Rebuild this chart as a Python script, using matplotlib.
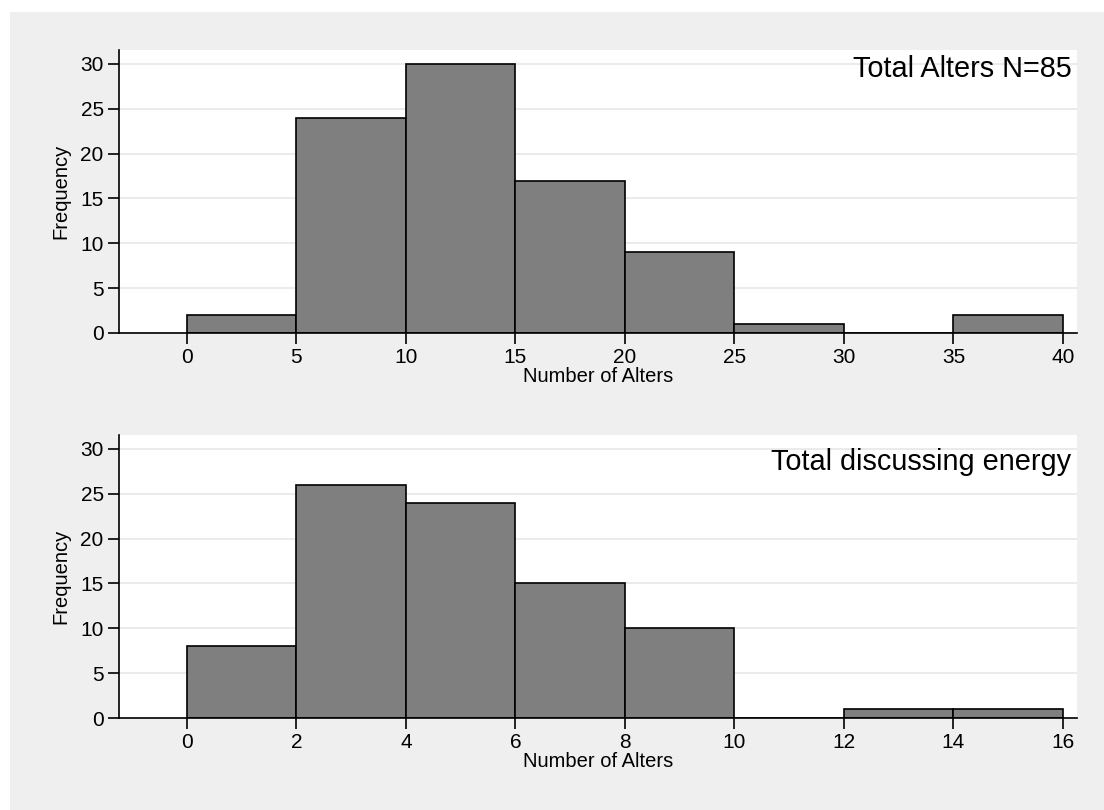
import numpy as np
import matplotlib
matplotlib.use("Agg")
import matplotlib.pyplot as plt
from matplotlib.patches import Rectangle

plt.rcParams['font.family'] = ['Liberation Sans', 'DejaVu Sans']

##################################
# Data (histogram counts)
alters_edges = [0, 5, 10, 15, 20, 25, 30, 35, 40]
alters_counts = [2, 24, 30, 17, 9, 1, 0, 2]
alters_ticks = [0, 5, 10, 15, 20, 25, 30, 35, 40]
alters_title = "Total Alters N=85"

energy_edges = [0, 2, 4, 6, 8, 10, 12, 14, 16]
energy_counts = [8, 26, 24, 15, 10, 0, 1, 1]
energy_ticks = [0, 2, 4, 6, 8, 10, 12, 14, 16]
energy_title = "Total discussing energy"

y_ticks = [0, 5, 10, 15, 20, 25, 30]

##################################
# Figure
W, H = 1104, 810
fig = plt.figure(figsize=(W/100, H/100), dpi=100, facecolor='white')
fig.add_artist(Rectangle((10/W, 0), 1, 1 - 12/H, transform=fig.transFigure,
                         facecolor='#efefef', edgecolor='none', zorder=-10))

def panel(rect, edges, counts, ticks, title, title_y, xlim):
    ax = fig.add_axes(rect)
    ax.set_facecolor('white')
    edges = np.asarray(edges, dtype=float)
    ax.bar(edges[:-1], counts, width=np.diff(edges), align='edge',
           color='#7f7f7f', edgecolor='black', linewidth=1.2, zorder=3)
    ax.set_xlim(*xlim)
    ax.set_ylim(0, 31.55)
    ax.set_xticks(ticks)
    ax.set_yticks(y_ticks)
    ax.yaxis.grid(True, color='#e8e8e8', linewidth=1.2, zorder=0)
    ax.set_axisbelow(True)
    for s in ['top', 'right']:
        ax.spines[s].set_visible(False)
    for s in ['left', 'bottom']:
        ax.spines[s].set_linewidth(1.2)
        ax.spines[s].set_zorder(4)
    ax.tick_params(axis='both', length=8, width=1.2, labelsize=15, pad=3)
    ax.set_xlabel('Number of Alters', fontsize=14.5, labelpad=0)
    ax.set_ylabel('Frequency', fontsize=14.5, labelpad=7)
    ax.text(0.9943, title_y, title, transform=ax.transAxes, ha='right', va='baseline',
            fontsize=20.8, zorder=5)
    return ax

panel([119/W, 1 - 333/H, (1077-119)/W, (333-50)/H],
      alters_edges, alters_counts, alters_ticks, alters_title, 0.9046, (-3.1, 40.64))
panel([119/W, 1 - 718/H, (1077-119)/W, (718-435)/H],
      energy_edges, energy_counts, energy_ticks, energy_title, 0.8763, (-1.242, 16.256))

fig.savefig('out.png', dpi=100, facecolor=fig.get_facecolor())
